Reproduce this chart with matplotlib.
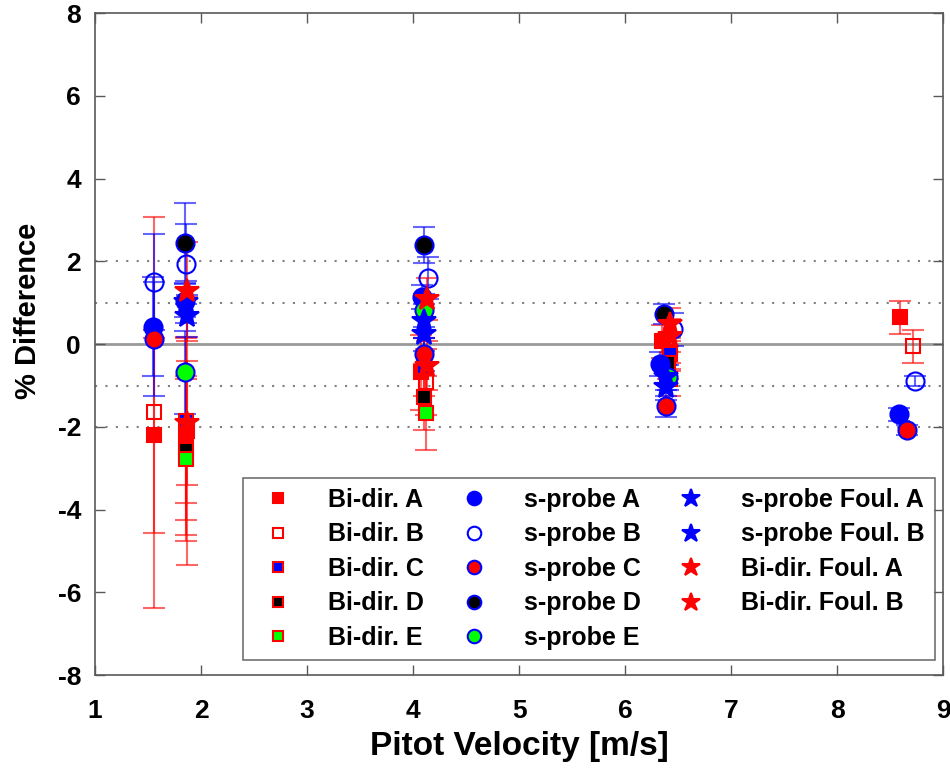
import matplotlib.pyplot as plt
from matplotlib.lines import Line2D

plt.rcParams['font.family'] = ['Liberation Sans', 'DejaVu Sans']
plt.rcParams['font.weight'] = 'bold'
plt.rcParams['axes.unicode_minus'] = False

# Pitot velocity [m/s], % difference and error for each series
bidir_a_x = [1.56, 1.86, 4.07, 6.35, 8.59]
bidir_a_y = [-2.20, -2.22, -0.68, 0.07, 0.65]
bidir_a_err = [2.36, 2.40, 0.90, 0.40, 0.40]

bidir_b_x = [1.56, 1.87, 4.12, 6.42, 8.71]
bidir_b_y = [-1.65, -2.10, -0.92, -0.20, -0.05]
bidir_b_err = [4.72, 3.25, 0.80, 0.40, 0.40]

bidir_c_x = [1.86, 4.10, 6.42]
bidir_c_y = [-1.85, -0.55, -0.25]
bidir_c_err = [2.00, 0.70, 0.40]

bidir_d_x = [1.86, 4.10, 6.40]
bidir_d_y = [-2.55, -1.28, -0.45]
bidir_d_err = [1.70, 0.80, 0.40]

bidir_e_x = [1.86, 4.12, 6.42]
bidir_e_y = [-2.77, -1.67, -0.85]
bidir_e_err = [2.00, 0.90, 0.40]

sprobe_a_x = [1.55, 1.85, 4.08, 6.33, 8.58]
sprobe_a_y = [0.42, 1.05, 1.14, -0.48, -1.70]
sprobe_a_err = [1.20, 0.40, 0.30, 0.30, 0.15]

sprobe_b_x = [1.56, 1.86, 4.14, 6.45, 8.73]
sprobe_b_y = [1.50, 1.94, 1.60, 0.36, -0.90]
sprobe_b_err = [1.16, 0.96, 0.50, 0.40, 0.12]

sprobe_c_x = [1.56, 4.10, 6.38, 8.66]
sprobe_c_y = [0.12, -0.24, -1.50, -2.08]
sprobe_c_err = [1.38, 0.40, 0.25, 0.12]

sprobe_d_x = [1.85, 4.10, 6.37]
sprobe_d_y = [2.45, 2.40, 0.73]
sprobe_d_err = [0.97, 0.44, 0.25]

sprobe_e_x = [1.85, 4.10, 6.40]
sprobe_e_y = [-0.68, 0.82, -0.80]
sprobe_e_err = [1.00, 0.40, 0.30]

sfoul_a_x = [1.86, 4.10, 6.38]
sfoul_a_y = [1.02, 0.56, -0.80]
sfoul_a_err = [0.50, 0.40, 0.30]

sfoul_b_x = [1.87, 4.10, 6.38]
sfoul_b_y = [0.68, 0.24, -1.04]
sfoul_b_err = [0.50, 0.40, 0.30]

bfoul_a_x = [1.87, 4.13, 6.42]
bfoul_a_y = [1.28, 1.09, 0.48]
bfoul_a_err = [1.20, 0.50, 0.40]

bfoul_b_x = [1.87, 4.13, 6.42]
bfoul_b_y = [-1.90, -0.52, 0.20]
bfoul_b_err = [1.50, 0.60, 0.40]

fig = plt.figure(figsize=(9.5, 7.76), dpi=100)
ax = fig.add_axes([0.1, 0.13, 0.893, 0.853])

# reference lines
ax.axhline(0, color='0.6', lw=2, zorder=0)
for yy in [-2, -1, 1, 2]:
    ax.axhline(yy, color='0.5', lw=1.5, ls=(0, (1, 4)), zorder=0)

series = [
    ('Bi-dir. A', bidir_a_x, bidir_a_y, bidir_a_err, 's', 'red', 'red', 'red', 10),
    ('Bi-dir. B', bidir_b_x, bidir_b_y, bidir_b_err, 's', 'none', 'red', 'red', 10),
    ('Bi-dir. C', bidir_c_x, bidir_c_y, bidir_c_err, 's', 'blue', 'red', 'red', 10),
    ('Bi-dir. D', bidir_d_x, bidir_d_y, bidir_d_err, 's', 'black', 'red', 'red', 10),
    ('Bi-dir. E', bidir_e_x, bidir_e_y, bidir_e_err, 's', 'lime', 'red', 'red', 10),
    ('s-probe A', sprobe_a_x, sprobe_a_y, sprobe_a_err, 'o', 'blue', 'blue', 'blue', 13),
    ('s-probe B', sprobe_b_x, sprobe_b_y, sprobe_b_err, 'o', 'none', 'blue', 'blue', 13),
    ('s-probe C', sprobe_c_x, sprobe_c_y, sprobe_c_err, 'o', 'red', 'blue', 'blue', 13),
    ('s-probe D', sprobe_d_x, sprobe_d_y, sprobe_d_err, 'o', 'black', 'blue', 'blue', 13),
    ('s-probe E', sprobe_e_x, sprobe_e_y, sprobe_e_err, 'o', 'lime', 'blue', 'blue', 13),
    ('s-probe Foul. A', sfoul_a_x, sfoul_a_y, sfoul_a_err, '*', 'blue', 'blue', 'blue', 18),
    ('s-probe Foul. B', sfoul_b_x, sfoul_b_y, sfoul_b_err, '*', 'blue', 'blue', 'blue', 18),
    ('Bi-dir. Foul. A', bfoul_a_x, bfoul_a_y, bfoul_a_err, '*', 'red', 'red', 'red', 18),
    ('Bi-dir. Foul. B', bfoul_b_x, bfoul_b_y, bfoul_b_err, '*', 'red', 'red', 'red', 18),
]

handles = []
for label, xs, ys, errs, mk, fc, ec, barc, ms in series:
    cont = ax.errorbar(xs, ys, yerr=errs, fmt=mk, mfc=fc, mec=ec, ms=ms, mew=1.5,
                       ecolor=barc, elinewidth=1.5, capsize=8, capthick=1.5)
    for cap in cont[1]:
        cap.set_alpha(0.6)
    for bar in cont[2]:
        bar.set_alpha(0.6)
    handles.append(Line2D([], [], ls='none', marker=mk, mfc=fc, mec=ec,
                          ms=ms * 0.75, mew=1.5, label=label))

ax.set_xlim(1, 9)
ax.set_ylim(-8, 8)
ax.set_xticks(range(1, 10))
ax.set_yticks(range(-8, 9, 2))
ax.tick_params(direction='in', length=7, width=1, color='0.35', top=True, right=True,
               labelsize=19)
ax.tick_params(axis='x', pad=17)
ax.tick_params(axis='y', pad=10)
for sp in ax.spines.values():
    sp.set_color('0.35')
    sp.set_linewidth(1.2)

ax.set_xlabel('Pitot Velocity [m/s]', fontsize=24, fontweight='bold', labelpad=6)
ax.set_ylabel('% Difference', fontsize=21, fontweight='bold')
ax.yaxis.set_label_coords(-0.062, 0.55)

leg = ax.legend(handles=handles, ncol=3, loc='lower right', bbox_to_anchor=(0.99, 0.023),
                borderaxespad=0, fontsize=18, frameon=True, fancybox=False, edgecolor='0.3',
                labelspacing=0.42, columnspacing=1.0, handletextpad=1.0, borderpad=0.4)
leg.get_frame().set_linewidth(1.2)

plt.savefig('out.png', dpi=100)
